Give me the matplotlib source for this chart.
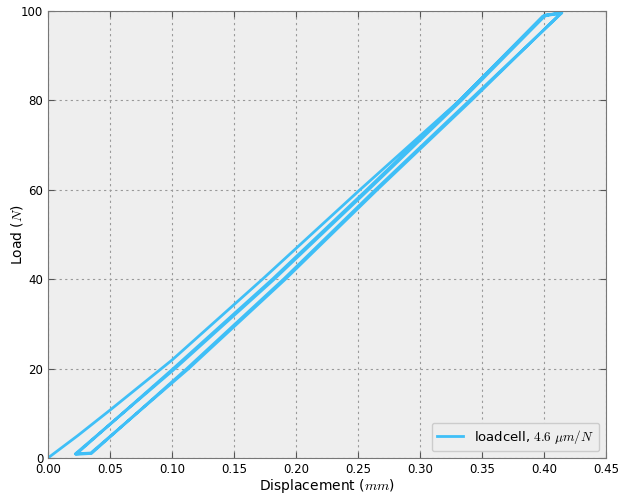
import matplotlib
matplotlib.use("Agg")
import matplotlib.pyplot as plt

# displacement (mm) and load (N): first loading, then load/unload cycles
displacement = [0.000, 0.024, 0.050, 0.100, 0.173, 0.2516, 0.332, 0.399, 0.4145,
                0.340, 0.264, 0.190, 0.112, 0.035, 0.0225,
                0.101, 0.181, 0.257, 0.332, 0.400, 0.414,
                0.3415, 0.2655, 0.1915, 0.1135, 0.0345, 0.0220,
                0.1025, 0.1825, 0.2585, 0.3335, 0.4015, 0.4135]
load = [0.0, 5.0, 10.7, 21.9, 40.0, 60.0, 80.0, 98.8, 99.6,
        80.0, 60.0, 40.0, 20.0, 1.0, 0.8,
        20.0, 40.0, 60.0, 80.0, 99.0, 99.6,
        80.0, 60.0, 40.0, 20.0, 1.1, 0.9,
        20.0, 40.0, 60.0, 80.0, 99.1, 99.5]

xticks = [0.00, 0.05, 0.10, 0.15, 0.20, 0.25, 0.30, 0.35, 0.40, 0.45]
yticks = [0, 20, 40, 60, 80, 100]

plt.rcParams["mathtext.fontset"] = "cm"

fig = plt.figure(figsize=(6.24, 5.01), dpi=100)
ax = fig.add_axes([0.077, 0.086, 0.894, 0.892])
ax.set_facecolor("#eeeeee")
for s in ax.spines.values():
    s.set_color("#777777")
    s.set_linewidth(0.8)

ax.plot(displacement, load, color="#3fbff7", lw=2.0, label=r"loadcell, $4.6\ \mu m/N$")

ax.set_xlim(0, 0.45)
ax.set_ylim(0, 100)
ax.set_xticks(xticks)
ax.set_xticklabels([f"{t:.2f}" for t in xticks])
ax.set_yticks(yticks)
ax.tick_params(direction="in", top=True, right=True, labelsize=8.5, length=4,
               color="#555555")
ax.grid(True, color="#999999", ls="--", lw=0.8, dashes=(2, 3))
ax.set_axisbelow(True)

ax.set_xlabel(r"Displacement ($mm$)", fontsize=10, labelpad=1)
ax.set_ylabel(r"Load ($N$)", fontsize=10, labelpad=-3)

leg = ax.legend(loc="lower right", fontsize=9.5, fancybox=True, framealpha=1.0)
leg.get_frame().set_facecolor("#eeeeee")
leg.get_frame().set_edgecolor("#cccccc")

fig.savefig("out.png", dpi=100)
